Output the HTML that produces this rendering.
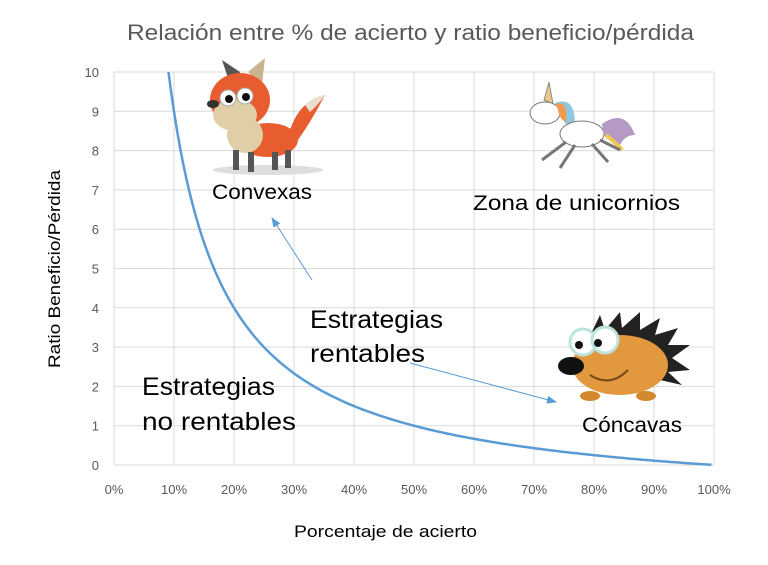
<!DOCTYPE html>
<html><head><meta charset="utf-8"><style>
html,body{margin:0;padding:0;background:#fff;width:768px;height:565px;overflow:hidden}
svg text{font-family:"Liberation Sans",sans-serif}
</style></head><body>
<svg width="768" height="565" viewBox="0 0 768 565" xmlns="http://www.w3.org/2000/svg">
<rect width="768" height="565" fill="#fff"/>
<text x="127" y="40" font-size="22" fill="#595959" textLength="567" lengthAdjust="spacingAndGlyphs">Relación entre % de acierto y ratio beneficio/pérdida</text>
<g stroke="#d9d9d9" stroke-width="1" id="grid"></g>
<g font-size="13" fill="#595959" id="labels"></g>
<path id="curve" fill="none" stroke="#5b9bd5" stroke-width="2.5"/>
<defs><marker id="ah" markerWidth="10" markerHeight="8" refX="9" refY="4" orient="auto"><path d="M0,0 L10,4 L0,8 Z" fill="#5b9bd5"/></marker></defs>
<line x1="312" y1="280" x2="272" y2="218" stroke="#5b9bd5" stroke-width="1" marker-end="url(#ah)"/>
<line x1="410" y1="363" x2="556" y2="402" stroke="#5b9bd5" stroke-width="1" marker-end="url(#ah)"/>
<text x="212" y="199" font-size="21" fill="#000" textLength="100" lengthAdjust="spacingAndGlyphs">Convexas</text>
<text x="473" y="210" font-size="21" fill="#000" textLength="207" lengthAdjust="spacingAndGlyphs">Zona de unicornios</text>
<text x="310" y="328" font-size="25" fill="#000" textLength="133" lengthAdjust="spacingAndGlyphs">Estrategias</text>
<text x="310" y="362" font-size="25" fill="#000" textLength="115" lengthAdjust="spacingAndGlyphs">rentables</text>
<text x="142" y="395" font-size="25" fill="#000" textLength="133" lengthAdjust="spacingAndGlyphs">Estrategias</text>
<text x="142" y="430" font-size="25" fill="#000" textLength="154" lengthAdjust="spacingAndGlyphs">no rentables</text>
<text x="582" y="432" font-size="21" fill="#000" textLength="100" lengthAdjust="spacingAndGlyphs">Cóncavas</text>
<text x="294" y="537" font-size="17" fill="#000" textLength="183" lengthAdjust="spacingAndGlyphs">Porcentaje de acierto</text>
<text transform="translate(60,368) rotate(-90)" font-size="17" fill="#000" textLength="198" lengthAdjust="spacingAndGlyphs">Ratio Beneficio/Pérdida</text>
<g>
<ellipse cx="268" cy="170" rx="55" ry="5" fill="#ddd"/>
<path d="M232 90 L222 60 L240 72 Z" fill="#555"/>
<path d="M262 85 L265 58 L248 72 Z" fill="#c9b48e"/>
<ellipse cx="240" cy="100" rx="30" ry="27" fill="#e85d2f"/>
<ellipse cx="235" cy="115" rx="22" ry="16" fill="#e0cfa6"/>
<ellipse cx="228" cy="98" rx="8" ry="8" fill="#fff" stroke="#aaa"/>
<ellipse cx="245" cy="96" rx="8" ry="8" fill="#fff" stroke="#aaa"/>
<circle cx="229" cy="99" r="4" fill="#111"/><circle cx="246" cy="97" r="4" fill="#111"/>
<ellipse cx="213" cy="104" rx="6" ry="4" fill="#333"/>
<ellipse cx="268" cy="140" rx="30" ry="17" fill="#e85d2f"/>
<ellipse cx="245" cy="135" rx="18" ry="18" fill="#e0cfa6"/>
<path d="M290 130 Q300 100 325 95 Q312 120 298 140 Z" fill="#e85d2f"/>
<path d="M305 105 Q315 96 325 95 Q318 105 310 112 Z" fill="#e8e0d0"/>
<rect x="233" y="150" width="6" height="20" fill="#555"/><rect x="248" y="152" width="6" height="20" fill="#555"/>
<rect x="272" y="152" width="6" height="18" fill="#555"/><rect x="285" y="150" width="6" height="18" fill="#555"/>
</g>
<g>
<path d="M549 82 L553 104 L544 100 Z" fill="#e8c98a" stroke="#777" stroke-width="0.8"/>
<ellipse cx="545" cy="113" rx="15" ry="11" fill="#fff" stroke="#777"/>
<path d="M555 103 Q575 95 575 125 Q568 130 562 118 Z" fill="#8fc6e0"/>
<path d="M556 104 Q568 100 566 122 Q560 120 558 110 Z" fill="#f29b4a"/>
<ellipse cx="582" cy="134" rx="22" ry="13" fill="#fff" stroke="#777"/>
<path d="M602 124 Q625 108 635 135 Q625 135 620 145 Q610 135 604 136 Z" fill="#b49ac4"/>
<path d="M606 135 Q618 145 622 150" stroke="#f2c94c" stroke-width="4" fill="none"/>
<path d="M566 142 L542 160 M575 145 L560 168 M592 144 L608 162 M600 140 L620 150" stroke="#777" stroke-width="3"/>
</g>
<g>
<path d="M588 340 L600 315 L605 330 L620 312 L622 328 L640 312 L640 330 L660 318 L655 335 L678 328 L668 345 L690 345 L672 358 L690 370 L668 372 L682 385 L660 380 Z" fill="#222"/>
<ellipse cx="620" cy="365" rx="48" ry="30" fill="#e2983e"/>
<ellipse cx="590" cy="396" rx="10" ry="5" fill="#d4882e"/><ellipse cx="646" cy="396" rx="10" ry="5" fill="#d4882e"/>
<circle cx="583" cy="342" r="13" fill="#fff" stroke="#bde3dc" stroke-width="3"/>
<circle cx="605" cy="340" r="13" fill="#fff" stroke="#bde3dc" stroke-width="3"/>
<circle cx="579" cy="345" r="4" fill="#111"/><circle cx="598" cy="343" r="4" fill="#111"/>
<ellipse cx="571" cy="366" rx="13" ry="9" fill="#111"/>
<path d="M590 375 Q610 388 628 370" stroke="#7a4a16" stroke-width="2" fill="none"/>
</g>
<script>
var g=document.getElementById('grid'),L=document.getElementById('labels'),ns='http://www.w3.org/2000/svg';
function el(t,a,p){var e=document.createElementNS(ns,t);for(var k in a)e.setAttribute(k,a[k]);p.appendChild(e);return e;}
var X0=114,X1=714,Y0=465,Y1=72;
for(var i=0;i<=10;i++){var y=Y0-(Y0-Y1)*i/10;el('line',{x1:X0,x2:X1,y1:y,y2:y},g);
var t=el('text',{x:99,y:y+5,'text-anchor':'end'},L);t.textContent=i;
var x=X0+(X1-X0)*i/10;el('line',{x1:x,x2:x,y1:Y1,y2:Y0},g);
var u=el('text',{x:x,y:494,'text-anchor':'middle'},L);u.textContent=(i*10)+'%';}
var d='';for(var p=1/11;p<=1.0001;p+=0.005){var r=(1-p)/p;var x=X0+(X1-X0)*p,y=Y0-(Y0-Y1)*r/10;d+=(d?'L':'M')+x.toFixed(1)+','+y.toFixed(1);}
document.getElementById('curve').setAttribute('d',d);
</script>
</svg>
</body></html>
